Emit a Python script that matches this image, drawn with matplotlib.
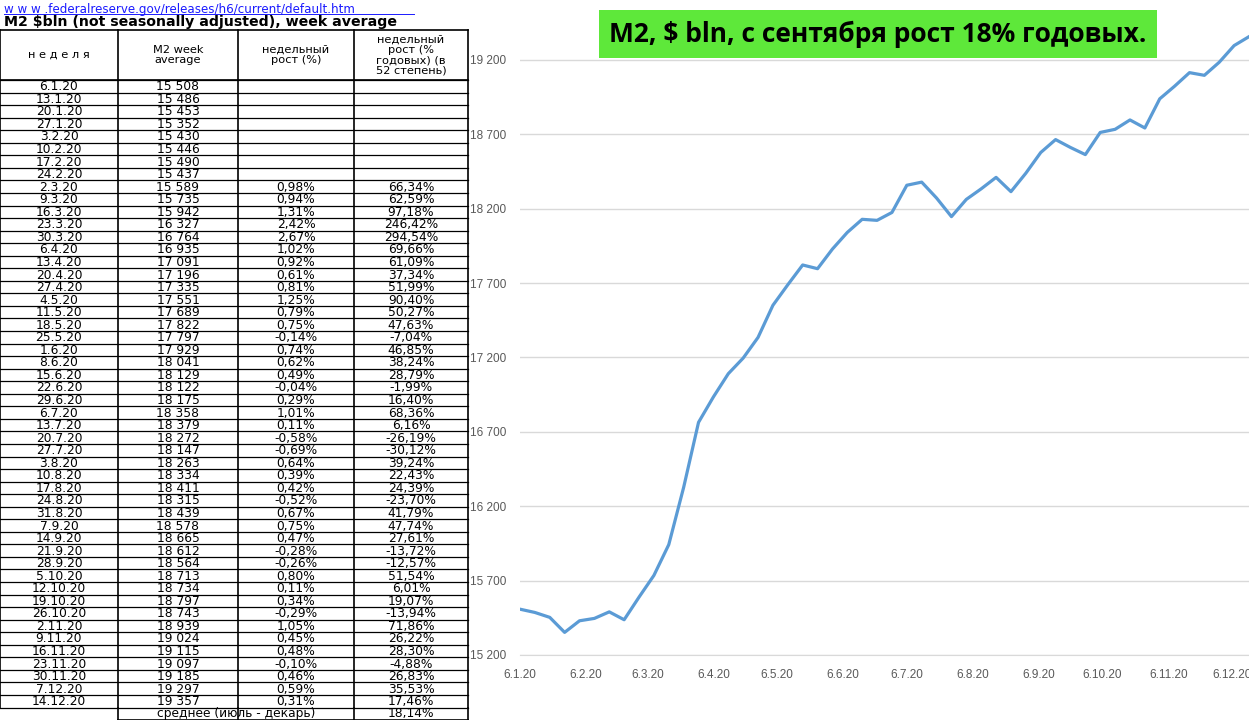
import datetime as dt
import matplotlib
matplotlib.use("Agg")
import matplotlib.pyplot as plt
from matplotlib.ticker import FuncFormatter

plt.rcParams["font.family"] = ["DejaVu Sans"]

weeks = ["6.1.20", "13.1.20", "20.1.20", "27.1.20", "3.2.20", "10.2.20", "17.2.20", "24.2.20",
         "2.3.20", "9.3.20", "16.3.20", "23.3.20", "30.3.20", "6.4.20", "13.4.20", "20.4.20",
         "27.4.20", "4.5.20", "11.5.20", "18.5.20", "25.5.20", "1.6.20", "8.6.20", "15.6.20",
         "22.6.20", "29.6.20", "6.7.20", "13.7.20", "20.7.20", "27.7.20", "3.8.20", "10.8.20",
         "17.8.20", "24.8.20", "31.8.20", "7.9.20", "14.9.20", "21.9.20", "28.9.20", "5.10.20",
         "12.10.20", "19.10.20", "26.10.20", "2.11.20", "9.11.20", "16.11.20", "23.11.20",
         "30.11.20", "7.12.20", "14.12.20"]
m2 = [15508, 15486, 15453, 15352, 15430, 15446, 15490, 15437, 15589, 15735, 15942, 16327,
      16764, 16935, 17091, 17196, 17335, 17551, 17689, 17822, 17797, 17929, 18041, 18129,
      18122, 18175, 18358, 18379, 18272, 18147, 18263, 18334, 18411, 18315, 18439, 18578,
      18665, 18612, 18564, 18713, 18734, 18797, 18743, 18939, 19024, 19115, 19097, 19185,
      19297, 19357]
weekly = [""] * 8 + ["0,98%", "0,94%", "1,31%", "2,42%", "2,67%", "1,02%", "0,92%", "0,61%",
          "0,81%", "1,25%", "0,79%", "0,75%", "-0,14%", "0,74%", "0,62%", "0,49%", "-0,04%",
          "0,29%", "1,01%", "0,11%", "-0,58%", "-0,69%", "0,64%", "0,39%", "0,42%", "-0,52%",
          "0,67%", "0,75%", "0,47%", "-0,28%", "-0,26%", "0,80%", "0,11%", "0,34%", "-0,29%",
          "1,05%", "0,45%", "0,48%", "-0,10%", "0,46%", "0,59%", "0,31%"]
annual = [""] * 8 + ["66,34%", "62,59%", "97,18%", "246,42%", "294,54%", "69,66%", "61,09%",
          "37,34%", "51,99%", "90,40%", "50,27%", "47,63%", "-7,04%", "46,85%", "38,24%",
          "28,79%", "-1,99%", "16,40%", "68,36%", "6,16%", "-26,19%", "-30,12%", "39,24%",
          "22,43%", "24,39%", "-23,70%", "41,79%", "47,74%", "27,61%", "-13,72%", "-12,57%",
          "51,54%", "6,01%", "19,07%", "-13,94%", "71,86%", "26,22%", "28,30%", "-4,88%",
          "26,83%", "35,53%", "17,46%"]
y_ticks = [15200, 15700, 16200, 16700, 17200, 17700, 18200, 18700, 19200]
x_tick_labels = ["6.1.20", "6.2.20", "6.3.20", "6.4.20", "6.5.20", "6.6.20", "6.7.20",
                 "6.8.20", "6.9.20", "6.10.20", "6.11.20", "6.12.20"]

W, H = 1249, 720
fig = plt.figure(figsize=(W / 100, H / 100), dpi=100)

# ---- table on the left, drawn in pixel coordinates ----
tab = fig.add_axes([0, 0, 1, 1])
tab.set_xlim(0, W)
tab.set_ylim(H, 0)
tab.axis("off")

cols = [0, 118, 238, 354, 468]
top, head_bot, row_h = 30, 80, 12.55
n = len(weeks)
bottom = head_bot + row_h * n
foot = bottom + row_h
lc = dict(color="black", lw=1.2)

tab.text(4, 9, "w w w .federalreserve.gov/releases/h6/current/default.htm", color="#1a1aff",
         fontsize=8.6, va="center")
tab.plot([4, 414], [14, 14], color="#1a1aff", lw=0.7)
tab.text(4, 22, "M2 $bln (not seasonally adjusted), week average", fontsize=10.2,
         fontweight="bold", va="center")

for x in cols:
    tab.plot([x, x], [top, bottom], **lc)
tab.plot([0, cols[-1]], [top, top], **lc)
tab.plot([0, cols[-1]], [head_bot, head_bot], **lc)
for i in range(n + 1):
    tab.plot([0, cols[-1]], [head_bot + i * row_h] * 2, color="black", lw=0.9)
for x in cols[1:]:
    tab.plot([x, x], [bottom, foot], **lc)
tab.plot([cols[1], cols[-1]], [foot, foot], **lc)

headers = ["н е д е л я", "M2 week\naverage", "недельный\nрост (%)",
           "недельный\nрост (%\nгодовых) (в\n52 степень)"]
for j, h in enumerate(headers):
    tab.text((cols[j] + cols[j + 1]) / 2, (top + head_bot) / 2, h, ha="center",
             va="center", fontsize=8.2, linespacing=1.05)

for i in range(n):
    yc = head_bot + (i + 0.5) * row_h
    vals = [weeks[i], f"{m2[i]:,}".replace(",", " "), weekly[i], annual[i]]
    for j, v in enumerate(vals):
        tab.text((cols[j] + cols[j + 1]) / 2, yc + 0.5, v, ha="center", va="center",
                 fontsize=8.8)
tab.text((cols[1] + cols[3]) / 2, (bottom + foot) / 2, "среднее (июль - декарь)",
         ha="center", va="center", fontsize=8.8)
tab.text((cols[3] + cols[4]) / 2, (bottom + foot) / 2, "18,14%", ha="center",
         va="center", fontsize=8.8)

# ---- line chart on the right ----
dates = [dt.datetime.strptime(w, "%d.%m.%y") for w in weeks]
ax = fig.add_axes([520 / W, (H - 655) / H, (W - 520) / W, 655 / H])
ax.plot(dates, m2, color="#5b9bd5", lw=2.3)
ax.set_ylim(15200, 15200 + 4000 * 655 / 595)
ax.set_yticks(y_ticks)
ax.yaxis.set_major_formatter(FuncFormatter(lambda v, p: f"{int(v):,}".replace(",", " ")))
tick_dates = [dt.datetime.strptime(t, "%d.%m.%y") for t in x_tick_labels]
ax.set_xticks(tick_dates)
ax.set_xticklabels(x_tick_labels)
ax.set_xlim(dates[0], dates[-1])
ax.grid(axis="y", color="#d9d9d9", lw=1)
ax.tick_params(length=0, labelsize=8.5, colors="#595959", pad=10)
plt.setp(ax.get_xticklabels(), family=["Liberation Sans Narrow", "Liberation Sans"])
plt.setp(ax.get_yticklabels(), family=["Liberation Sans Narrow", "Liberation Sans"])
for s in ["top", "right", "left"]:
    ax.spines[s].set_visible(False)
ax.spines["bottom"].set_color("#d9d9d9")

fig.text(878 / W, 1 - 34 / H, "M2, $ bln, с сентября рост 18% годовых.",
         ha="center", va="center", fontsize=19, fontweight="bold",
         family=["Open Sans", "DejaVu Sans"],
         bbox=dict(boxstyle="square,pad=0.4", fc="#5ee83a", ec="none"))

fig.savefig("out.png", dpi=100)
